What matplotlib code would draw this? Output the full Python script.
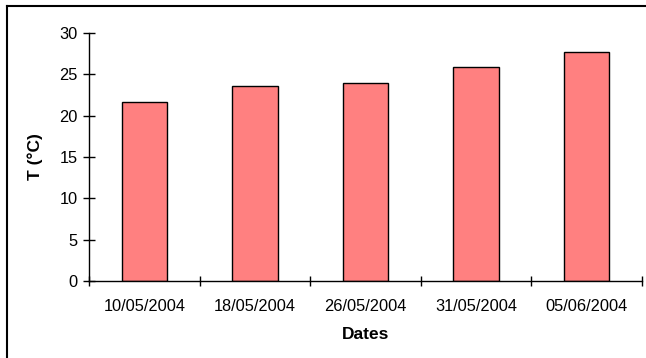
import numpy as np
import matplotlib
matplotlib.use("Agg")
import matplotlib.pyplot as plt
from matplotlib.lines import Line2D

plt.rcParams['font.family'] = ['Liberation Sans', 'DejaVu Sans']

dates = ['10/05/2004', '18/05/2004', '26/05/2004', '31/05/2004', '05/06/2004']
temps = [21.6, 23.6, 23.9, 25.9, 27.7]

W, H = 646, 358
fig = plt.figure(figsize=(W / 100, H / 100), dpi=100)
ax = fig.add_axes([89 / W, 1 - 281 / H, (642 - 89) / W, (281 - 33) / H])

x = np.arange(len(dates))
ax.bar(x, temps, width=0.41, color='#FF8080', edgecolor='black', linewidth=1.0)

ax.set_xlim(-0.5, len(dates) - 0.5)
ax.set_ylim(0, 30)
ax.set_yticks(np.arange(0, 31, 5))
ax.set_xticks(x)
ax.set_xticklabels(dates)
# category separators sit between the bars
ax.set_xticks(np.arange(-0.5, len(dates)), minor=True)
ax.tick_params(axis='x', which='major', length=0, pad=13, labelsize=11.8)
ax.tick_params(axis='x', which='minor', direction='inout', length=7.5, width=1)
ax.tick_params(axis='y', direction='inout', length=8, width=1, pad=4, labelsize=11.8)

for side in ['top', 'right']:
    ax.spines[side].set_visible(False)
for side in ['left', 'bottom']:
    ax.spines[side].set_linewidth(1.0)

ax.set_ylabel('T (°C)', fontweight='bold', fontsize=12.5, labelpad=12)
ax.set_xlabel('Dates', fontweight='bold', fontsize=12.5, labelpad=9)

# chart frame (top and left edges)
fig.add_artist(Line2D([7 / W, 1], [1 - 6 / H, 1 - 6 / H], color='black', lw=1.5,
                      transform=fig.transFigure))
fig.add_artist(Line2D([7 / W, 7 / W], [0, 1 - 6 / H], color='black', lw=1.5,
                      transform=fig.transFigure))

fig.savefig('out.png', dpi=100)
